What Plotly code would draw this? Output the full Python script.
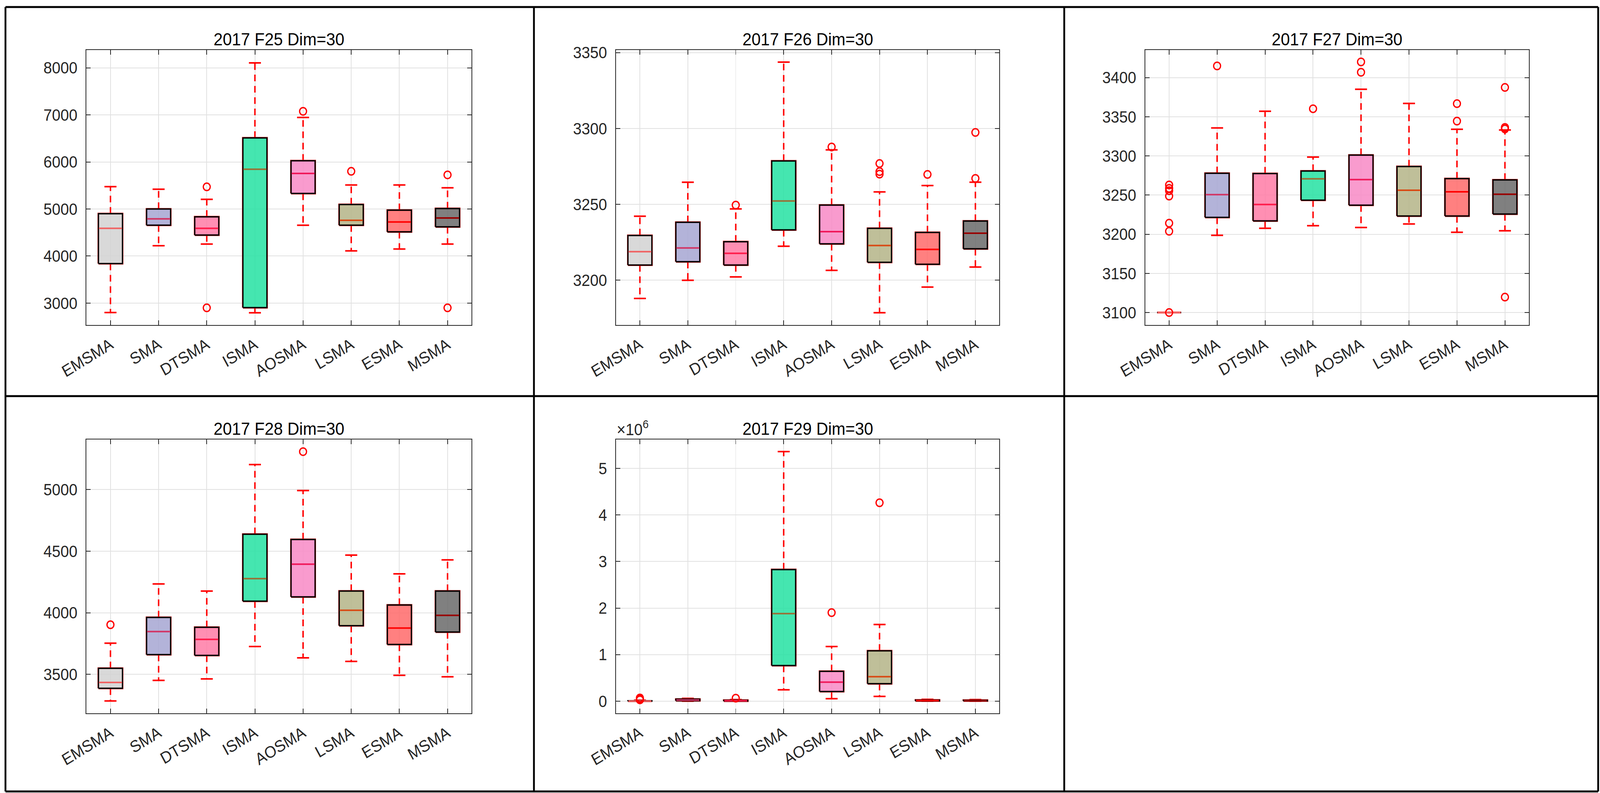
import plotly.graph_objects as go
from plotly.subplots import make_subplots

W, H = 4390, 2030

methods = ['EMSMA', 'SMA', 'DTSMA', 'ISMA', 'AOSMA', 'LSMA', 'ESMA', 'MSMA']

# box fill colours (as seen on white) and median line colours
fill_colors = ['#d9d9d9', '#b3b3d9', '#ff8fb3', '#45e6b0', '#f99bce', '#bfbf99', '#ff8080', '#808080']
median_colors = ['#f06262', '#d23464', '#ff1a4a', '#9a6f35', '#f0185a', '#d84a14', '#ff0000', '#990000']

# ---- 2017 F25 ----
f25_lower = [2800, 4220, 4255, 2795, 4655, 4110, 4150, 4255]
f25_q1 = [3840, 4655, 4445, 2905, 5330, 4655, 4515, 4620]
f25_median = [4590, 4790, 4590, 5845, 5755, 4760, 4725, 4810]
f25_q3 = [4900, 5000, 4835, 6510, 6025, 5095, 4975, 5010]
f25_upper = [5475, 5420, 5205, 8105, 6945, 5510, 5510, 5450]
f25_outliers = [[], [], [5470, 2900], [], [7075], [5800], [], [5725, 2900]]

# ---- 2017 F26 ----
f26_lower = [3188.0, 3200.0, 3202.2, 3222.4, 3206.5, 3178.6, 3195.5, 3208.7]
f26_q1 = [3210.0, 3212.2, 3210.0, 3233.2, 3224.0, 3211.8, 3210.5, 3220.7]
f26_median = [3218.8, 3221.3, 3217.7, 3252.2, 3232.0, 3222.9, 3220.3, 3231.0]
f26_q3 = [3229.5, 3238.2, 3225.4, 3278.6, 3249.5, 3234.2, 3231.5, 3239.0]
f26_upper = [3242.2, 3264.6, 3247.0, 3343.7, 3285.9, 3258.2, 3262.4, 3264.6]
f26_outliers = [[], [], [3249.5], [], [3287.8], [3276.9, 3271.6, 3269.9], [3269.7], [3297.4, 3267.1]]

# ---- 2017 F27 ----
f27_lower = [3100, 3198.6, 3207.6, 3210.9, 3208.6, 3213.1, 3202.5, 3204.4]
f27_q1 = [3100, 3221.5, 3217.0, 3243.5, 3237.1, 3223.2, 3223.2, 3225.7]
f27_median = [3100, 3250.6, 3238.0, 3270.7, 3269.7, 3256.1, 3254.2, 3251.0]
f27_q3 = [3100, 3277.8, 3277.5, 3280.7, 3301.1, 3286.5, 3271.0, 3269.4]
f27_upper = [3100, 3335.7, 3357.0, 3298.5, 3385.1, 3367.0, 3334.0, 3333.1]
f27_outliers = [[3262.9, 3258.5, 3255.5, 3248.7, 3214.1, 3203.8, 3100.0], [3414.9], [], [3360.2],
                [3420.0, 3406.8], [], [3366.7, 3344.4], [3387.4, 3336.3, 3334.4, 3119.7]]

# ---- 2017 F28 ----
f28_lower = [3284, 3451, 3463, 3726, 3634, 3605, 3492, 3480]
f28_q1 = [3387, 3660, 3654, 4094, 4129, 3895, 3743, 3843]
f28_median = [3434, 3847, 3784, 4277, 4394, 4020, 3876, 3979]
f28_q3 = [3549, 3962, 3882, 4638, 4595, 4176, 4063, 4176]
f28_upper = [3753, 4234, 4176, 5203, 4992, 4468, 4316, 4429]
f28_outliers = [[3903], [], [], [], [5308], [], [], []]

# ---- 2017 F29 (values in units of 1e6) ----
f29_lower = [0.000, 0.000, 0.000, 0.245, 0.054, 0.103, 0.000, 0.000]
f29_q1 = [0.002, 0.010, 0.003, 0.766, 0.207, 0.375, 0.006, 0.006]
f29_median = [0.005, 0.025, 0.010, 1.880, 0.408, 0.527, 0.015, 0.013]
f29_q3 = [0.010, 0.045, 0.020, 2.826, 0.641, 1.082, 0.025, 0.022]
f29_upper = [0.020, 0.060, 0.035, 5.360, 1.174, 1.647, 0.040, 0.035]
f29_outliers = [[0.07, 0.045, 0.03], [], [0.065], [], [1.902], [4.261], [], []]

panels = [
    ('2017 F25 Dim=30', f25_lower, f25_q1, f25_median, f25_q3, f25_upper, f25_outliers,
     [2535, 8378], [3000, 4000, 5000, 6000, 7000, 8000]),
    ('2017 F26 Dim=30', f26_lower, f26_q1, f26_median, f26_q3, f26_upper, f26_outliers,
     [3170.5, 3351.7], [3200, 3250, 3300, 3350]),
    ('2017 F27 Dim=30', f27_lower, f27_q1, f27_median, f27_q3, f27_upper, f27_outliers,
     [3084.1, 3435.2], [3100, 3150, 3200, 3250, 3300, 3350, 3400]),
    ('2017 F28 Dim=30', f28_lower, f28_q1, f28_median, f28_q3, f28_upper, f28_outliers,
     [3183.7, 5406.8], [3500, 4000, 4500, 5000]),
    ('2017 F29 Dim=30', f29_lower, f29_q1, f29_median, f29_q3, f29_upper, f29_outliers,
     [-0.26, 5.62], [0, 1, 2, 3, 4, 5]),
]

# axes boxes in pixels (left, right, top, bottom)
ax_px = [(237, 1294, 128, 832), (1690, 2742, 128, 832), (3142, 4195, 128, 832),
         (237, 1294, 1125, 1826), (1690, 2742, 1125, 1826)]
cells = [(1, 1), (1, 2), (1, 3), (2, 1), (2, 2)]

FONT = 'Liberation Sans, Arial, Helvetica, sans-serif'
AXC = '#262626'
GRID = '#e1e1e1'
BW = 0.25   # half box width
CW = 0.125  # half cap width
ALPHA = 0.85


def rgba(hexc, a=ALPHA):
    r, g, b = (int(hexc[i:i + 2], 16) for i in (1, 3, 5))
    base = [max(0, min(255, round((c - (1 - a) * 255) / a))) for c in (r, g, b)]
    return 'rgba(%d,%d,%d,%.2f)' % (base[0], base[1], base[2], a)


fig = make_subplots(rows=2, cols=3, specs=[[{}, {}, {}], [{}, {}, None]])

for k, (title, lo, q1, med, q3, up, outl, yr, yt) in enumerate(panels):
    row, col = cells[k]
    xs = list(range(len(methods)))

    # whiskers
    wx, wy = [], []
    for i in xs:
        wx += [i, i, None, i, i, None]
        wy += [q3[i], up[i], None, q1[i], lo[i], None]
    fig.add_trace(go.Scatter(x=wx, y=wy, mode='lines', hoverinfo='skip',
                             line=dict(color='#ff0000', width=4, dash='17px,12px')), row=row, col=col)
    # caps
    cx, cy = [], []
    for i in xs:
        cx += [i - CW, i + CW, None, i - CW, i + CW, None]
        cy += [up[i], up[i], None, lo[i], lo[i], None]
    fig.add_trace(go.Scatter(x=cx, y=cy, mode='lines', hoverinfo='skip',
                             line=dict(color='#ff0000', width=4)), row=row, col=col)
    # red boxplot outline underneath
    bx, by = [], []
    for i in xs:
        bx += [i - BW, i + BW, i + BW, i - BW, i - BW, None]
        by += [q1[i], q1[i], q3[i], q3[i], q1[i], None]
    fig.add_trace(go.Scatter(x=bx, y=by, mode='lines', hoverinfo='skip',
                             line=dict(color='#ff3030', width=5)), row=row, col=col)
    # filled patches with black edges
    for i in xs:
        fig.add_trace(go.Scatter(x=[i - BW, i + BW, i + BW, i - BW, i - BW],
                                 y=[q1[i], q1[i], q3[i], q3[i], q1[i]],
                                 mode='lines', fill='toself', fillcolor=rgba(fill_colors[i]),
                                 line=dict(color='#000000', width=3.5), hoverinfo='skip'),
                      row=row, col=col)
    # medians
    for i in xs:
        fig.add_trace(go.Scatter(x=[i - BW + 0.01, i + BW - 0.01], y=[med[i], med[i]], mode='lines',
                                 line=dict(color=median_colors[i], width=4), hoverinfo='skip'),
                      row=row, col=col)
    # outliers
    ox, oy = [], []
    for i in xs:
        for v in outl[i]:
            ox.append(i)
            oy.append(v)
    fig.add_trace(go.Scatter(x=ox, y=oy, mode='markers', hoverinfo='skip',
                             marker=dict(symbol='circle-open', size=19, color='#ff0000',
                                         line=dict(width=3.5, color='#ff0000'))),
                  row=row, col=col)

    l, r, t, b = ax_px[k]
    xdom = [l / W, r / W]
    ydom = [1 - b / H, 1 - t / H]
    fig.update_xaxes(domain=xdom, range=[-0.5, len(methods) - 0.5], tickmode='array',
                     tickvals=xs, ticktext=methods, tickangle=-30, automargin=False,
                     showgrid=True, gridcolor=GRID, gridwidth=2, zeroline=False,
                     showline=True, linecolor=AXC, linewidth=2, mirror='ticks',
                     ticks='inside', ticklen=12, tickwidth=2, tickcolor=AXC,
                     ticklabelstandoff=8,
                     tickfont=dict(family=FONT, size=42, color=AXC), row=row, col=col)
    fig.update_yaxes(domain=ydom, range=yr, tickmode='array', tickvals=yt,
                     ticktext=[str(v) for v in yt], automargin=False,
                     showgrid=True, gridcolor=GRID, gridwidth=2, zeroline=False,
                     showline=True, linecolor=AXC, linewidth=2, mirror='ticks',
                     ticks='inside', ticklen=12, tickwidth=2, tickcolor=AXC,
                     ticklabelstandoff=14,
                     tickfont=dict(family=FONT, size=42, color=AXC), row=row, col=col)

    fig.add_annotation(text=title, x=(xdom[0] + xdom[1]) / 2, y=ydom[1], xref='paper', yref='paper',
                       xanchor='center', yanchor='bottom', yshift=0, showarrow=False,
                       font=dict(family=FONT, size=45, color='#000000'))

# exponent label for the F29 panel
l, r, t, b = ax_px[4]
fig.add_annotation(text='\u00d710<sup>6</sup>', x=l / W, y=1 - t / H, xref='paper', yref='paper',
                   xanchor='left', yanchor='bottom', showarrow=False,
                   font=dict(family=FONT, size=42, color=AXC))

# black frame lines around the panels
xs_lines = [15, 1465, 2920, 4385]
ys_lines = [18, 1014, 2026]
for xv in xs_lines:
    fig.add_shape(type='line', xref='paper', yref='paper', x0=xv / W, x1=xv / W,
                  y0=1 - ys_lines[0] / H, y1=1 - ys_lines[-1] / H, line=dict(color='#000000', width=5))
for yv in ys_lines:
    fig.add_shape(type='line', xref='paper', yref='paper', x0=xs_lines[0] / W, x1=xs_lines[-1] / W,
                  y0=1 - yv / H, y1=1 - yv / H, line=dict(color='#000000', width=5))

fig.update_layout(width=W, height=H, margin=dict(l=0, r=0, t=0, b=0, pad=0, autoexpand=False),
                  showlegend=False, paper_bgcolor='white', plot_bgcolor='white',
                  font=dict(family=FONT, color=AXC))

# stretch the fixed-size figure so it fills the viewport the page actually gets
fit_js = """
document.documentElement.style.overflow = 'hidden';
document.body.style.margin = '0';
document.body.style.overflow = 'hidden';
var gd = document.getElementById('{plot_id}');
var sx = window.innerWidth / %d, sy = window.innerHeight / %d;
gd.style.transformOrigin = '0 0';
gd.style.transform = 'scale(' + sx + ',' + sy + ')';
var wrap = gd.parentElement;
wrap.style.width = window.innerWidth + 'px';
wrap.style.height = window.innerHeight + 'px';
wrap.style.overflow = 'hidden';
""" % (W, H)

fig.write_html("out.html", post_script=fit_js, config={'displayModeBar': False})
